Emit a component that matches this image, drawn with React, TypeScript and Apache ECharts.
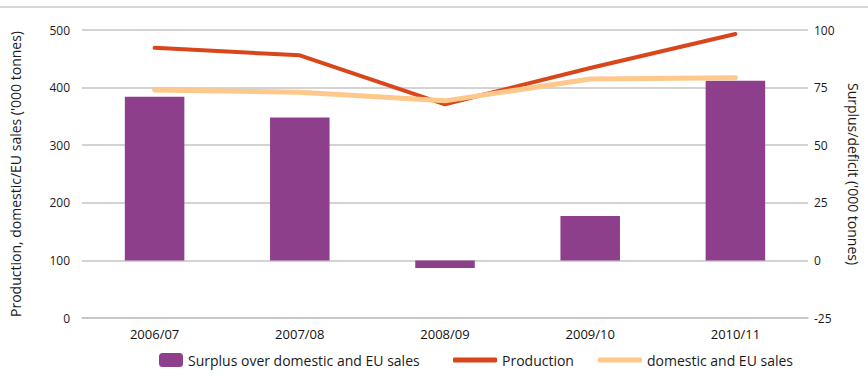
import React, { useEffect, useRef } from "react";
import * as echarts from "echarts";

const categories = ["2006/07", "2007/08", "2008/09", "2009/10", "2010/11"];
const surplus = [71, 62, -3.3, 19.3, 78];
const production = [469, 456, 371, 434, 493];
const domesticEU = [396, 392, 377, 415, 417];

const FONT = "Open Sans";

export default function App() {
  const ref = useRef<HTMLDivElement>(null);
  useEffect(() => {
    const chart = echarts.init(ref.current!, null, { renderer: "svg" });
    chart.setOption({
      animation: false,
      textStyle: { fontFamily: FONT },
      grid: { left: 82, right: 60, top: 30, bottom: 64, containLabel: false },
      graphic: [
        {
          type: "line",
          shape: { x1: 0, y1: 7, x2: 868, y2: 7 },
          style: { stroke: "#c8c8c8", lineWidth: 1.5 },
        },
      ],
      legend: [
        {
          data: ["Surplus over domestic and EU sales"],
          left: 154,
          top: 348,
          itemWidth: 24,
          itemHeight: 14,
          itemGap: 8,
          textStyle: { fontFamily: FONT, fontSize: 14, color: "#1a1a1a" },
        },
        {
          data: [
            { name: "Production", icon: "roundRect" },
            { name: "domestic and EU sales", icon: "roundRect" },
          ],
          left: 448,
          top: 348,
          itemWidth: 44,
          itemHeight: 5,
          itemGap: 24,
          textStyle: { fontFamily: FONT, fontSize: 14, color: "#1a1a1a" },
        },
      ],
      xAxis: {
        type: "category",
        data: categories,
        axisLine: { lineStyle: { color: "#c4c4c4", width: 1.5 } },
        axisTick: { show: false },
        axisLabel: { color: "#111", fontSize: 13, margin: 9, fontFamily: FONT },
      },
      yAxis: [
        {
          type: "value",
          min: 0,
          max: 500,
          interval: 100,
          name: "Production, domestic/EU sales ('000 tonnes)",
          nameLocation: "middle",
          nameGap: 60,
          nameTextStyle: { fontSize: 14, color: "#1a1a1a", fontFamily: FONT },
          axisLine: { show: false },
          axisTick: { show: false },
          axisLabel: { color: "#1a1a1a", fontSize: 12, margin: 12 },
          splitLine: { lineStyle: { color: "#c4c4c4", width: 1.5 } },
        },
        {
          type: "value",
          min: -25,
          max: 100,
          interval: 25,
          name: "Surplus/deficit ('000 tonnes)",
          nameLocation: "middle",
          nameGap: 38,
          nameRotate: -90,
          nameTextStyle: { fontSize: 14, color: "#1a1a1a", fontFamily: FONT },
          axisLine: { show: false },
          axisTick: { show: false },
          axisLabel: { color: "#1a1a1a", fontSize: 12, margin: 6 },
          splitLine: { show: false },
        },
      ],
      series: [
        {
          name: "Surplus over domestic and EU sales",
          type: "bar",
          yAxisIndex: 1,
          data: surplus,
          barWidth: "41%",
          itemStyle: { color: "#8e3f8c" },
        },
        {
          name: "Production",
          type: "line",
          yAxisIndex: 0,
          data: production,
          symbol: "none",
          lineStyle: { color: "#d9461c", width: 4, cap: "round", join: "round" },
          itemStyle: { color: "#d9461c" },
        },
        {
          name: "domestic and EU sales",
          type: "line",
          yAxisIndex: 0,
          data: domesticEU,
          symbol: "none",
          lineStyle: { color: "#fdc88a", width: 5, cap: "round", join: "round" },
          itemStyle: { color: "#fdc88a" },
        },
      ],
    });
    return () => chart.dispose();
  }, []);
  return (
    <div
      ref={ref}
      style={{ position: "fixed", left: 0, top: 0, width: 868, height: 382, background: "#fff" }}
    />
  );
}
